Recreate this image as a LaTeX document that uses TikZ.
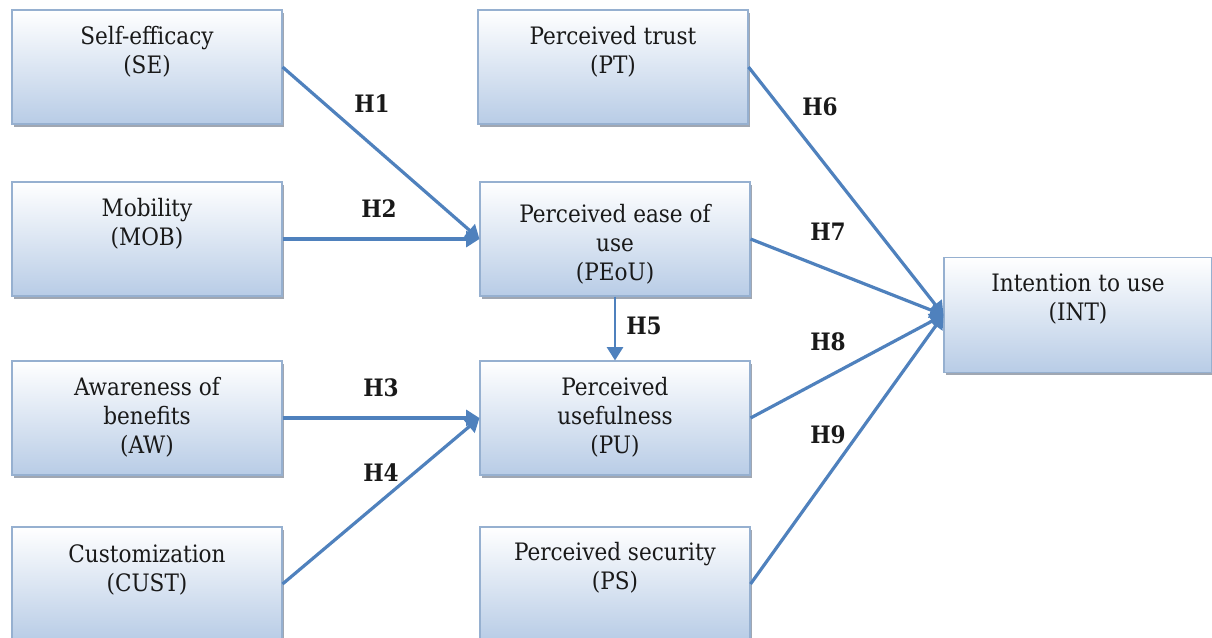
\documentclass[tikz,border=0pt]{standalone}
\usepackage{fontspec}
\setmainfont{DejaVu Serif Condensed}
\usetikzlibrary{arrows.meta,shadows,calc}
\definecolor{arrowblue}{RGB}{79,129,189}
\definecolor{boxtop}{RGB}{255,255,255}
\definecolor{boxbot}{RGB}{184,204,230}
\definecolor{boxline}{RGB}{150,176,208}
\definecolor{shadowgray}{RGB}{128,138,152}
\definecolor{txt}{RGB}{25,25,25}
\begin{document}
\begin{tikzpicture}[x=0.75pt,y=-0.75pt,
  box/.style={draw=boxline, line width=0.8pt, top color=boxtop, bottom color=boxbot,
    minimum width=202.5pt, minimum height=85.5pt, inner sep=0pt,
    drop shadow={shadow xshift=1.6pt, shadow yshift=-2pt, fill=shadowgray, opacity=0.75}},
  lbl/.style={font=\fontsize{18}{21.5}\selectfont, align=center, text=txt, inner sep=0pt, anchor=north},
  hl/.style={font=\bfseries\fontsize{18}{21}\selectfont, text=txt, inner sep=0pt},
  conn/.style={draw=arrowblue, line width=2.4pt, -{Triangle[length=10pt,width=12pt]}}]
\useasboundingbox (0,0) rectangle (1212,638);

% boxes
\node[box] (se) at (147,67) {};
\node[box] (mob) at (147,239) {};
\node[box] (aw) at (147,418) {};
\node[box] (cust) at (147,584) {};
\node[box] (pt) at (613,67) {};
\node[box] (peou) at (615,239) {};
\node[box] (pu) at (615,418) {};
\node[box] (ps) at (615,584) {};
\node[box, minimum width=201pt, minimum height=86.25pt] (int) at (1078,315) {};

% texts
\node[lbl] (se-t) at ($(se.north)+(0,17)$) {Self-efficacy\\(SE)};
\node[lbl] (mob-t) at ($(mob.north)+(0,17)$) {Mobility\\(MOB)};
\node[lbl] (aw-t) at ($(aw.north)+(0,17)$) {Awareness of\\benefits\\(AW)};
\node[lbl] (cust-t) at ($(cust.north)+(0,18)$) {Customization\\(CUST)};
\node[lbl] (pt-t) at ($(pt.north)+(0,17)$) {Perceived trust\\(PT)};
\node[lbl] (peou-t) at ($(peou.north)+(0,23)$) {Perceived ease of\\use\\(PEoU)};
\node[lbl] (pu-t) at ($(pu.north)+(0,17)$) {Perceived\\usefulness\\(PU)};
\node[lbl] (ps-t) at ($(ps.north)+(0,16)$) {Perceived security\\(PS)};
\node[lbl] (int-t) at ($(int.north)+(0,17)$) {Intention to use\\(INT)};

% connectors
\draw[conn] (se.east) -- (peou.west);
\draw[conn] (mob.east) -- (peou.west);
\draw[conn] (aw.east) -- (pu.west);
\draw[conn] (cust.east) -- (pu.west);
\draw[conn, line width=2pt] (peou.south) -- (pu.north);
\draw[conn] (pt.east) -- (int.west);
\draw[conn] (peou.east) -- (int.west);
\draw[conn] (pu.east) -- (int.west);
\draw[conn] (ps.east) -- (int.west);

% hypothesis labels
\node[hl] (h1) at (372,104) {H1};
\node[hl] (h2) at (379,209) {H2};
\node[hl] (h3) at (381,388) {H3};
\node[hl] (h4) at (381,473) {H4};
\node[hl] (h5) at (644,326) {H5};
\node[hl] (h6) at (820,107) {H6};
\node[hl] (h7) at (828,232) {H7};
\node[hl] (h8) at (828,342) {H8};
\node[hl] (h9) at (828,435) {H9};
\end{tikzpicture}
\end{document}
